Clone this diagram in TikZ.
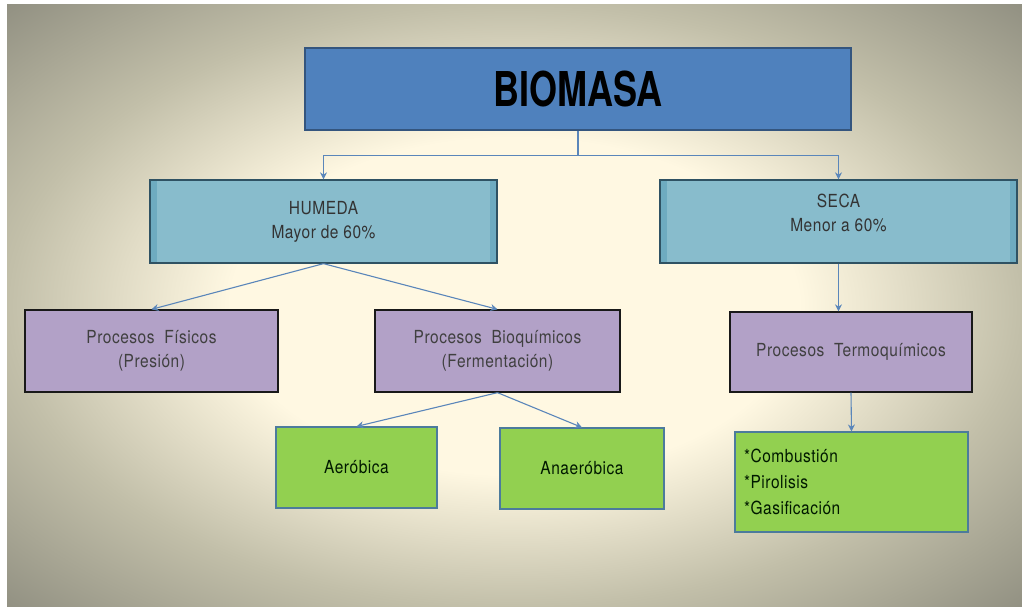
\documentclass[tikz,border=0pt]{standalone}
\usepackage{fontspec}
\setmainfont{TeX Gyre Heros}[LetterSpace=3, FakeStretch=0.86]
\newfontfamily\titulofont{TeX Gyre Heros}[FakeStretch=0.75]
\usetikzlibrary{arrows.meta}

\definecolor{fondoin}{HTML}{FFF8E2}
\definecolor{fondomid}{HTML}{C2BFA9}
\definecolor{fondoout}{HTML}{8F8E80}
\definecolor{raizfill}{HTML}{4F81BD}
\definecolor{raizborde}{HTML}{34557E}
\definecolor{tipofill}{HTML}{88BCCC}
\definecolor{tipobanda}{HTML}{6EABC0}
\definecolor{tipoborde}{HTML}{2F5263}
\definecolor{procfill}{HTML}{B2A1C7}
\definecolor{hojafill}{HTML}{92D050}
\definecolor{hojaborde}{HTML}{4C7B9C}
\definecolor{flecha}{HTML}{5A86BA}

\pgfdeclareradialshading{fondo}{\pgfpoint{0bp}{0bp}}{color(0bp)=(fondoin); color(14bp)=(fondoin); color(25bp)=(fondomid); color(36bp)=(fondoout); color(50bp)=(fondoout)}

\tikzset{
	raiz/.style={draw=raizborde, line width=1.6pt, fill=raizfill, minimum width=546pt, minimum height=82pt, font=\titulofont\bfseries\fontsize{48}{52}\selectfont, text=black},
	tipo/.style={draw=tipoborde, line width=1.3pt, fill=tipofill, minimum height=83pt, align=center, font=\fontsize{18}{24}\selectfont, text=black!80,
		path picture={
			\fill[tipobanda] (path picture bounding box.north west) rectangle ([xshift=7pt]path picture bounding box.south west);
			\fill[tipobanda] (path picture bounding box.north east) rectangle ([xshift=-7pt]path picture bounding box.south east);
		}},
	proceso/.style={draw=black!90, line width=1.3pt, fill=procfill, minimum height=82pt, align=center, font=\fontsize{18}{24}\selectfont, text=black!75},
	hoja/.style={draw=hojaborde, line width=1.1pt, fill=hojafill, minimum height=81pt, align=center, font=\fontsize{18}{24}\selectfont, text=black!90!green},
	flechas/.style={draw=flecha, line width=1.1pt, -{Stealth[length=7pt,width=7pt]}}
}

\begin{document}
\begin{tikzpicture}[x=1pt, y=-1pt]
	\useasboundingbox (0,0) rectangle (1022,607);
	\fill[white] (0,0) rectangle (1022,607);
	\shade[shading=fondo] (7,5) rectangle (1022,607);

	% Define nodes
	\node[raiz] (biomasa) at (578,89) {BIOMASA};
	\node[tipo, minimum width=347pt] (humeda) at (323.5,221.5) {HUMEDA\\Mayor de 60\%};
	\node[tipo, minimum width=357pt, text depth=17pt] (seca) at (838.5,221.5) {SECA\\Menor a 60\%};
	\node[proceso, minimum width=253pt] (fisicos) at (151.5,351) {Procesos\ \ Físicos\\(Presión)};
	\node[proceso, minimum width=245pt] (bioquimicos) at (497.5,351) {Procesos\ \ Bioquímicos\\(Fermentación)};
	\node[proceso, minimum width=242pt, minimum height=80pt] (termo) at (851,352) {Procesos\ \ Termoquímicos};
	\node[hoja, minimum width=161pt] (aerobica) at (356.5,467.5) {Aeróbica};
	\node[hoja, minimum width=164pt] (anaerobica) at (582,468.5) {Anaeróbica};
	\node[hoja, minimum height=100pt, text width=215pt, inner xsep=9pt, align=left, font=\fontsize{18}{26}\selectfont] (termolista) at (851.5,482) {*Combustión\\{}*Pirolisis\\{}*Gasificación};

	% Connect the nodes
	\coordinate (reparto) at ([yshift=-25pt]biomasa.south);
	\draw[draw=flecha, line width=1.1pt] (biomasa.south) -- (reparto);
	\draw[flechas] (reparto) -| (humeda.north);
	\draw[flechas] (reparto) -| (seca.north);
	\draw[flechas] (humeda.south) -- (fisicos.north);
	\draw[flechas] (humeda.south) -- (bioquimicos.north);
	\draw[flechas] (seca.south) -- (seca.south |- termo.north);
	\draw[flechas] (bioquimicos.south) -- (aerobica.north);
	\draw[flechas] (bioquimicos.south) -- (anaerobica.north);
	\draw[flechas] (termo.south) -- (termolista.north);
\end{tikzpicture}
\end{document}
